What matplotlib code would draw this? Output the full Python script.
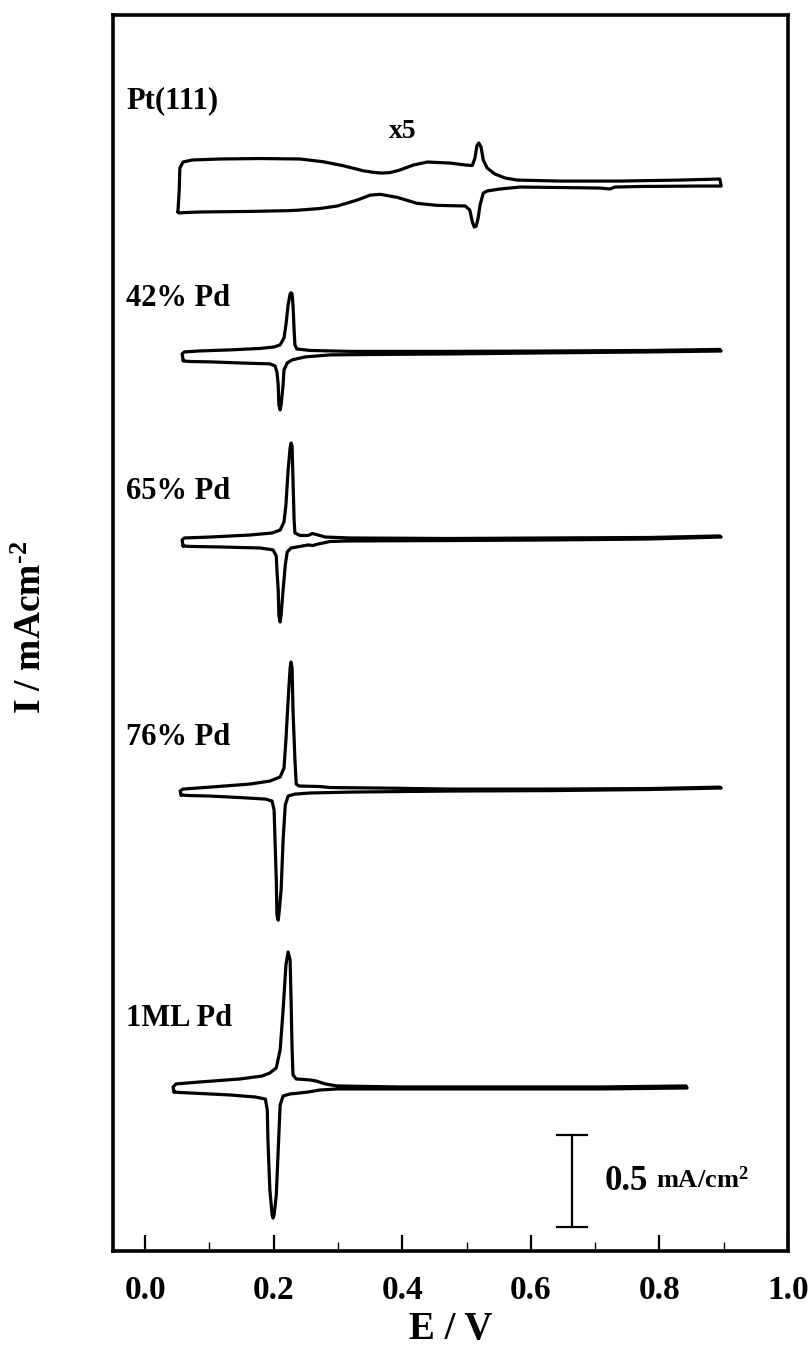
import matplotlib
matplotlib.use("Agg")
import matplotlib.pyplot as plt
import numpy as np

plt.rcParams['font.family'] = ['Liberation Serif', 'DejaVu Serif']
plt.rcParams['font.weight'] = 'bold'
plt.rcParams['mathtext.fontset'] = 'custom'
plt.rcParams['mathtext.rm'] = 'Liberation Serif:bold'
plt.rcParams['mathtext.bf'] = 'Liberation Serif:bold'
plt.rcParams['mathtext.it'] = 'Liberation Serif:bold'

# ---------------- data (E / V, I / mA cm^-2) ----------------
labels = ["Pt(111)", "42% Pd", "65% Pd", "76% Pd", "1ML Pd"]
offsets = [5.793, 4.886, 3.864, 2.505, 0.886]
label_y = [6.25, 5.179, 4.125, 2.793, 1.264]
pt_scale = 5

# Pt(111) (real currents, displayed x5)
pt_E_up = [0.051, 0.053, 0.054, 0.059, 0.073, 0.117, 0.179, 0.241, 0.277, 0.308, 0.339, 0.358, 0.369, 0.381,
           0.395, 0.417, 0.439, 0.474, 0.499, 0.509, 0.513, 0.516, 0.519, 0.5225, 0.526, 0.532, 0.544, 0.560,
           0.5785, 0.645, 0.739, 0.832, 0.894, 0.896]
pt_I_up = [-0.0293, -0.0054, 0.0185, 0.025, 0.0272, 0.0283, 0.0288, 0.0283, 0.0253, 0.021, 0.0155, 0.0135, 0.013,
           0.0135, 0.016, 0.0217, 0.025, 0.0239, 0.0217, 0.0212, 0.0293, 0.0424, 0.0457, 0.0413, 0.0272, 0.0185,
           0.012, 0.0076, 0.0054, 0.0043, 0.0043, 0.0054, 0.0065, -0.0011]
pt_E_dn = [0.896, 0.863, 0.770, 0.731, 0.723, 0.708, 0.645, 0.583, 0.552, 0.532, 0.526, 0.521, 0.518, 0.515, 0.512,
           0.509, 0.505, 0.498, 0.467, 0.454, 0.423, 0.392, 0.3655, 0.350, 0.330, 0.299, 0.272, 0.241, 0.2255,
           0.163, 0.0855, 0.062, 0.053, 0.051]
pt_I_dn = [-0.0011, -0.0011, -0.0016, -0.0022, -0.0043, -0.0033, -0.0027, -0.0022, -0.0043, -0.0065, -0.0087,
           -0.0217, -0.0359, -0.0446, -0.0457, -0.0402, -0.0272, -0.0228, -0.0223, -0.0221, -0.0199, -0.0134,
           -0.0101, -0.011, -0.0163, -0.0228, -0.0255, -0.0272, -0.0278, -0.0287, -0.0293, -0.0299, -0.0304,
           -0.0293]

# 42% Pd
p42_E_up = [0.059, 0.0575, 0.061, 0.0855, 0.132, 0.179, 0.2006, 0.210, 0.216, 0.219, 0.2224, 0.2255, 0.227, 0.2286,
            0.230, 0.2317, 0.233, 0.236, 0.2566, 0.319, 0.474, 0.630, 0.785, 0.894]
p42_I_up = [-0.0435, -0.011, 0.0, 0.0054, 0.011, 0.019, 0.027, 0.038, 0.076, 0.147, 0.255, 0.315, 0.321, 0.315,
            0.255, 0.120, 0.038, 0.016, 0.008, 0.003, 0.003, 0.005, 0.008, 0.0136]
p42_E_dn = [0.896, 0.785, 0.630, 0.474, 0.3655, 0.288, 0.249, 0.2286, 0.221, 0.216, 0.2146, 0.2115, 0.210, 0.208,
            0.207, 0.205, 0.202, 0.194, 0.148, 0.101, 0.070, 0.059]
p42_I_dn = [0.005, 0.0, -0.005, -0.011, -0.0136, -0.016, -0.027, -0.0435, -0.060, -0.098, -0.179, -0.288, -0.315,
            -0.288, -0.179, -0.109, -0.076, -0.065, -0.060, -0.054, -0.052, -0.049]

# 65% Pd
p65_E_up = [0.059, 0.0575, 0.061, 0.101, 0.163, 0.1975, 0.210, 0.216, 0.219, 0.2224, 0.2255, 0.227, 0.2286, 0.230,
            0.2317, 0.233, 0.241, 0.2535, 0.260, 0.266, 0.280, 0.319, 0.474, 0.630, 0.785, 0.894]
p65_I_up = [-0.0326, 0.0, 0.011, 0.016, 0.027, 0.038, 0.054, 0.098, 0.190, 0.380, 0.500, 0.527, 0.511, 0.326, 0.109,
            0.038, 0.0245, 0.0245, 0.035, 0.030, 0.016, 0.011, 0.008, 0.011, 0.0136, 0.022]
p65_E_dn = [0.896, 0.785, 0.630, 0.474, 0.319, 0.288, 0.269, 0.261, 0.2535, 0.241, 0.227, 0.221, 0.218, 0.2146,
            0.2115, 0.210, 0.208, 0.207, 0.205, 0.204, 0.199, 0.179, 0.1166, 0.070, 0.059]
p65_I_dn = [0.016, 0.0054, 0.0, -0.003, -0.0054, -0.008, -0.022, -0.030, -0.027, -0.035, -0.0435, -0.065, -0.136,
            -0.272, -0.408, -0.446, -0.408, -0.272, -0.163, -0.087, -0.054, -0.0435, -0.038, -0.035, -0.0326]

# 76% Pd
p76_E_up = [0.056, 0.0544, 0.059, 0.101, 0.163, 0.194, 0.210, 0.216, 0.219, 0.2224, 0.2255, 0.227, 0.2286, 0.230,
            0.233, 0.235, 0.2395, 0.272, 0.288, 0.3655, 0.474, 0.630, 0.785, 0.894]
p76_I_up = [-0.027, -0.0054, 0.0054, 0.016, 0.0326, 0.049, 0.071, 0.120, 0.272, 0.489, 0.663, 0.696, 0.663, 0.435,
            0.163, 0.0326, 0.022, 0.019, 0.0136, 0.011, 0.0054, 0.0054, 0.008, 0.016]
p76_E_dn = [0.896, 0.785, 0.630, 0.474, 0.319, 0.288, 0.2566, 0.233, 0.2224, 0.218, 0.2146, 0.2115, 0.208, 0.207,
            0.205, 0.204, 0.202, 0.2006, 0.1975, 0.187, 0.148, 0.101, 0.070, 0.056]
p76_I_dn = [0.011, 0.003, -0.003, -0.0054, -0.011, -0.0136, -0.016, -0.022, -0.0326, -0.0815, -0.272, -0.543, -0.679,
            -0.707, -0.679, -0.489, -0.272, -0.109, -0.060, -0.049, -0.041, -0.0326, -0.030, -0.027]

# 1ML Pd
p1_E_up = [0.045, 0.0435, 0.048, 0.0855, 0.148, 0.182, 0.194, 0.204, 0.210, 0.2146, 0.219, 0.2224, 0.2255, 0.227,
           0.2286, 0.230, 0.235, 0.2566, 0.266, 0.280, 0.2986, 0.3966, 0.552, 0.708, 0.8414]
p1_I_up = [-0.022, 0.0054, 0.022, 0.0326, 0.049, 0.065, 0.0815, 0.109, 0.207, 0.424, 0.668, 0.739, 0.696, 0.478,
           0.207, 0.071, 0.049, 0.0435, 0.038, 0.022, 0.011, 0.0054, 0.0054, 0.0054, 0.011]
p1_E_dn = [0.843, 0.708, 0.552, 0.3966, 0.2986, 0.272, 0.2535, 0.241, 0.2255, 0.2146, 0.210, 0.207, 0.204, 0.2006,
           0.199, 0.1975, 0.194, 0.191, 0.190, 0.187, 0.171, 0.132, 0.0855, 0.0544, 0.045]
p1_I_dn = [0.0, -0.0054, -0.0054, -0.0054, -0.0054, -0.011, -0.022, -0.027, -0.0326, -0.0435, -0.092, -0.337, -0.582,
           -0.690, -0.707, -0.690, -0.554, -0.283, -0.120, -0.060, -0.049, -0.038, -0.030, -0.0245, -0.022]

traces = [
    (pt_E_up, pt_I_up, pt_E_dn, pt_I_dn, pt_scale),
    (p42_E_up, p42_I_up, p42_E_dn, p42_I_dn, 1),
    (p65_E_up, p65_I_up, p65_E_dn, p65_I_dn, 1),
    (p76_E_up, p76_I_up, p76_E_dn, p76_I_dn, 1),
    (p1_E_up, p1_I_up, p1_E_dn, p1_I_dn, 1),
]

scale_bar_E = 0.664
scale_bar_I0 = 0.13
scale_bar_len = 0.5

x_ticks = [0.0, 0.2, 0.4, 0.6, 0.8, 1.0]
x_minor = [0.1, 0.3, 0.5, 0.7, 0.9]

# ---------------- figure ----------------
fig = plt.figure(figsize=(8.12, 13.49), dpi=100)
ax = fig.add_axes([113/812, 1-1251/1349, (788-113)/812, (1251-15)/1349])

for (eu, iu, ed, idn, sc), off in zip(traces, offsets):
    E = np.concatenate([eu, ed])
    I = np.concatenate([iu, idn]) * sc + off
    ax.plot(E, I, color='black', lw=2.3, solid_joinstyle='round', solid_capstyle='round')

for lab, ly in zip(labels, label_y):
    ax.text(-0.0295, ly, lab, fontsize=22, fontweight='bold', ha='left', va='center')

ax.text(0.400, 6.082, "x5", fontsize=20, fontweight='bold', ha='center', va='center')

# scale bar
ax.plot([scale_bar_E, scale_bar_E], [scale_bar_I0, scale_bar_I0 + scale_bar_len], color='black', lw=1.6)
for yy in [scale_bar_I0, scale_bar_I0 + scale_bar_len]:
    ax.plot([scale_bar_E - 0.023, scale_bar_E + 0.023], [yy, yy], color='black', lw=1.6)
ax.text(0.715, scale_bar_I0 + scale_bar_len/2, "0.5", fontsize=25, fontweight='bold', ha='left', va='center')
ax.text(0.795, scale_bar_I0 + scale_bar_len/2 + 0.01, r"mA/cm$^{2}$", fontsize=19, fontweight='bold',
        ha='left', va='center')

ax.set_xlim(-0.05, 1.0)
ax.set_ylim(0, 6.717)
ax.set_xticks(x_ticks)
ax.set_xticks(x_minor, minor=True)
ax.set_xticklabels([f"{v:.1f}" for v in x_ticks])
ax.set_yticks([])
ax.tick_params(axis='x', which='major', direction='in', length=11.5, width=1.6, labelsize=24, pad=17, top=False)
ax.tick_params(axis='x', which='minor', direction='in', length=6.5, width=1.0, top=False)
for lbl in ax.get_xticklabels():
    lbl.set_fontweight('bold')
for s in ax.spines.values():
    s.set_linewidth(2.6)

ax.set_xlabel("E / V", fontsize=28, fontweight='bold', labelpad=4)
fig.text(32/812, 1-627/1349, r"I / mAcm$^{\text{-2}}$", fontsize=27, fontweight='bold', rotation=90,
         ha='center', va='center')

fig.savefig("out.png", dpi=100)
